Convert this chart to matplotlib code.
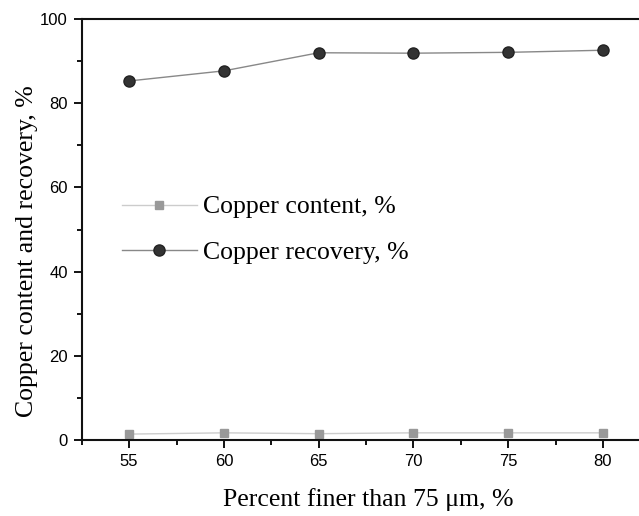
import matplotlib
matplotlib.use('Agg')
import matplotlib.pyplot as plt
from matplotlib.ticker import MultipleLocator

# Data
finer = [55, 60, 65, 70, 75, 80]
cu_content = [1.4, 1.7, 1.5, 1.7, 1.7, 1.7]
cu_recovery = [85.3, 87.7, 92.0, 91.9, 92.1, 92.6]

fig = plt.figure(figsize=(6.39, 5.16), dpi=100)
ax = fig.add_axes([0.1279, 0.1473, 0.8721, 0.8157])

ax.plot(finer, cu_content, color='#cccccc', lw=1.0, marker='s', ms=6,
        mfc='#999999', mec='#999999', label='Copper content, %')
ax.plot(finer, cu_recovery, color='#888888', lw=1.0, marker='o', ms=8,
        mfc='#333333', mec='#222222', label='Copper recovery, %')

ax.set_xlim(52.5, 81.9)
ax.set_ylim(0, 100)
ax.xaxis.set_major_locator(MultipleLocator(5))
ax.xaxis.set_minor_locator(MultipleLocator(2.5))
ax.yaxis.set_major_locator(MultipleLocator(20))
ax.yaxis.set_minor_locator(MultipleLocator(10))
ax.tick_params(which='both', direction='out', top=False, right=False,
               labelsize=12, width=1.3, labelfontfamily='Liberation Sans',
               pad=4)
ax.tick_params(which='major', length=6)
ax.tick_params(which='minor', length=3.5)
ax.spines['right'].set_visible(False)
for s in ['left', 'bottom', 'top']:
    ax.spines[s].set_linewidth(1.5)
    ax.spines[s].set_color('#111111')

ax.set_xlabel('Percent finer than 75 μm, %', family='Liberation Serif',
              fontsize=18.5, labelpad=14)
ax.xaxis.set_label_coords(0.514, -0.115)
ax.set_ylabel('Copper content and recovery, %', family='Liberation Serif',
              fontsize=18.5)
ax.yaxis.set_label_coords(-0.078, 0.449)

leg = ax.legend(loc='center left', bbox_to_anchor=(0.0723, 0.5), frameon=False,
                prop={'family': 'Liberation Serif', 'size': 18.5},
                handlelength=2.9, handletextpad=0.25, labelspacing=0.86,
                borderpad=0, borderaxespad=0)

fig.savefig('out.png', dpi=100)
